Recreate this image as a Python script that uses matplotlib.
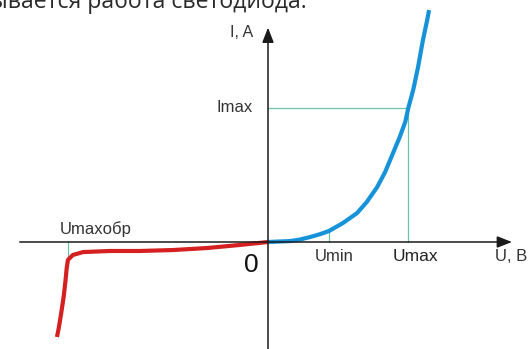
import matplotlib.pyplot as plt

# forward branch (blue), U in units of Umin, I in units of Imax
u_forward = [0, 0.36, 0.52, 0.69, 0.85, 1.0, 1.23, 1.46, 1.62, 1.79, 1.92, 2.05, 2.16,
             2.25, 2.30, 2.38, 2.46, 2.54, 2.61, 2.64]
i_forward = [0, 0.007, 0.018, 0.037, 0.058, 0.082, 0.142, 0.216, 0.299, 0.410, 0.522,
             0.664, 0.784, 0.896, 1.0, 1.134, 1.306, 1.507, 1.657, 1.731]

# reverse branch (red) with breakdown near Umaxобр
u_reverse = [0, -0.46, -1.0, -1.56, -2.10, -2.59, -3.03, -3.20, -3.28, -3.30, -3.32,
             -3.35, -3.39, -3.43, -3.46]
i_reverse = [0, -0.022, -0.045, -0.060, -0.067, -0.067, -0.075, -0.097, -0.134, -0.194,
             -0.290, -0.410, -0.530, -0.642, -0.709]

u_min = 1.0
u_max = 2.30
i_max = 1.0
u_max_rev = -3.28

plt.rcParams['font.family'] = ['Liberation Sans', 'DejaVu Sans']

fig = plt.figure(figsize=(5.28, 3.49), dpi=100)
ax = fig.add_axes([0, 0, 1, 1])
ax.set_xlim(-268 / 61, 260 / 61)
ax.set_ylim(-107 / 134, 242 / 134)
ax.axis('off')

grid_color = '#6cc4a6'
text_color = '#333333'

# axes with arrow heads
arrow = dict(arrowstyle='-|>,head_length=0.9,head_width=0.35', color='#1a1a1a',
             lw=1.1, shrinkA=0, shrinkB=0)
ax.annotate('', xy=(4.0, 0), xytext=(-4.07, 0), arrowprops=arrow)
ax.annotate('', xy=(0, 1.6), xytext=(0, -0.8), arrowprops=arrow)

# guide lines for the working point
ax.plot([0, u_max], [i_max, i_max], color=grid_color, lw=0.9)
ax.plot([u_max, u_max], [0, i_max], color=grid_color, lw=0.9)
ax.plot([u_min, u_min], [0, i_forward[u_forward.index(u_min)]], color=grid_color, lw=0.9)
ax.plot([u_max_rev, u_max_rev], [0, i_reverse[u_reverse.index(u_max_rev)]],
        color=grid_color, lw=0.9)

# characteristic
ax.plot(u_reverse, i_reverse, color='#d42020', lw=3, solid_capstyle='butt',
        solid_joinstyle='round')
ax.plot(u_forward, i_forward, color='#1592d8', lw=3, solid_capstyle='butt',
        solid_joinstyle='round')

# labels
ax.text(-0.44, 1.565, 'I, A', fontsize=11.5, color=text_color, ha='center', va='center')
ax.text(-0.54, i_max, 'Imax', fontsize=12, color=text_color, ha='center', va='center')
ax.text(u_min + 0.08, -0.11, 'Umin', fontsize=12, color=text_color, ha='center', va='center')
ax.text(u_max + 0.11, -0.105, 'Umax', fontsize=12.5, color='#222222', ha='center', va='center')
ax.text(3.98, -0.11, 'U, B', fontsize=12, color=text_color, ha='center', va='center')
ax.text(-2.82, 0.095, 'Umaxобр', fontsize=12, color=text_color, ha='center', va='center')
ax.text(-0.28, -0.17, '0', fontsize=19, color='#111111', ha='center', va='center')

# tail of the paragraph above the chart
ax.text(-278 / 61, 234 / 134, 'ывается работа светодиода.', fontsize=16.6,
        family=['Open Sans', 'DejaVu Sans'], color='#2a2a2a', ha='left', va='baseline')

fig.savefig('out.png', dpi=100)
